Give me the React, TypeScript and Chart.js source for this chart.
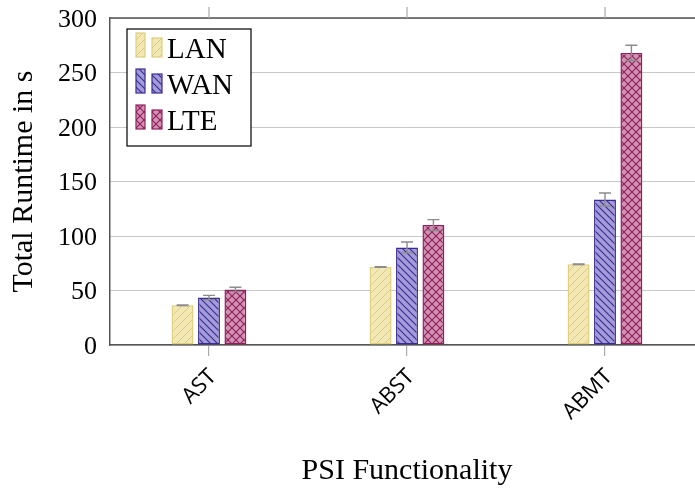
import React, { useEffect, useRef } from 'react';
import { Chart, registerables } from 'chart.js';

Chart.register(...registerables);

// ---- data ----
const categories = ['AST', 'ABST', 'ABMT'];
const seriesNames = ['LAN', 'WAN', 'LTE'];
const lanValues = [36.5, 71.5, 74];
const wanValues = [43.5, 89.5, 133.5];
const lteValues = [51, 110, 268];
const lanErrors = [0.3, 0.3, 0.3];
const wanErrors = [2, 5, 6];
const lteErrors = [2, 5, 7];
const yTickValues = [0, 50, 100, 150, 200, 250, 300];
const xTitle = 'PSI Functionality';
const yTitle = 'Total Runtime in s';

const SERIF = '"Liberation Serif", "Times New Roman", serif';
const SANS = '"Open Sans", "Noto Sans", sans-serif';

function makePattern(kind: string, bg: string, fg: string, s: number, lw: number) {
  const c = document.createElement('canvas');
  c.width = s;
  c.height = s;
  const g = c.getContext('2d')!;
  g.fillStyle = bg;
  g.fillRect(0, 0, s, s);
  g.strokeStyle = fg;
  g.lineWidth = lw;
  const ne = () => {
    for (const o of [-s, 0, s]) {
      g.beginPath();
      g.moveTo(o - 1, s + 1);
      g.lineTo(o + s + 1, -1);
      g.stroke();
    }
  };
  const nw = () => {
    for (const o of [-s, 0, s]) {
      g.beginPath();
      g.moveTo(o - 1, -1);
      g.lineTo(o + s + 1, s + 1);
      g.stroke();
    }
  };
  if (kind === 'ne') ne();
  if (kind === 'nw') nw();
  if (kind === 'cross') {
    ne();
    nw();
  }
  return g.createPattern(c, 'repeat')!;
}

export default function App() {
  const ref = useRef<HTMLCanvasElement>(null);

  useEffect(() => {
    const canvas = ref.current!;
    const lanPat = makePattern('ne', '#f1e8b6', '#ddcc80', 8, 1);
    const wanPat = makePattern('nw', '#a39cd8', '#3b2e96', 7, 1.2);
    const ltePat = makePattern('cross', '#d294b3', '#932261', 8, 1.2);
    const patterns = [lanPat, wanPat, ltePat];
    const borders = ['#dfcd7c', '#392b93', '#93205e'];
    const values = [lanValues, wanValues, lteValues];
    const errors = [lanErrors, wanErrors, lteErrors];

    const errorBars = {
      id: 'errorBars',
      afterDatasetsDraw(chart: any) {
        const ctx = chart.ctx;
        const ys = chart.scales.y;
        ctx.save();
        ctx.strokeStyle = '#8c8c8c';
        ctx.lineWidth = 1.4;
        chart.data.datasets.forEach((ds: any, i: number) => {
          const meta = chart.getDatasetMeta(i);
          meta.data.forEach((el: any, j: number) => {
            const v = ds.data[j];
            const e = errors[i][j];
            const yt = ys.getPixelForValue(v + e);
            const yb = ys.getPixelForValue(v - e);
            const x = el.x;
            ctx.beginPath();
            ctx.moveTo(x, yt);
            ctx.lineTo(x, yb);
            ctx.moveTo(x - 6, yt);
            ctx.lineTo(x + 6, yt);
            ctx.moveTo(x - 6, yb);
            ctx.lineTo(x + 6, yb);
            ctx.stroke();
          });
        });
        ctx.restore();
      },
    };

    const frameAndLegend = {
      id: 'frameAndLegend',
      afterDraw(chart: any) {
        const ctx = chart.ctx;
        const a = chart.chartArea;
        const xs = chart.scales.x;
        ctx.save();
        // top frame line
        ctx.strokeStyle = '#555';
        ctx.lineWidth = 1.5;
        ctx.beginPath();
        ctx.moveTo(a.left, a.top);
        ctx.lineTo(a.right + 20, a.top);
        ctx.stroke();
        // top ticks
        ctx.strokeStyle = '#aaa';
        ctx.lineWidth = 1.2;
        categories.forEach((_, i) => {
          const x = xs.getPixelForValue(i);
          ctx.beginPath();
          ctx.moveTo(x, a.top - 11);
          ctx.lineTo(x, a.top);
          ctx.stroke();
        });
        // legend
        const bx = a.left + 17;
        const by = a.top + 11;
        const bw = 124;
        const bh = 117;
        ctx.fillStyle = '#fff';
        ctx.fillRect(bx, by, bw, bh);
        ctx.strokeStyle = '#000';
        ctx.lineWidth = 1.2;
        ctx.strokeRect(bx, by, bw, bh);
        chart.data.datasets.forEach((ds: any, k: number) => {
          const rt = by + 4 + k * 36;
          ctx.fillStyle = ds.backgroundColor;
          ctx.strokeStyle = ds.borderColor;
          ctx.lineWidth = 1.2;
          ctx.fillRect(bx + 9, rt, 9, 24);
          ctx.strokeRect(bx + 9, rt, 9, 24);
          ctx.fillRect(bx + 25, rt + 5, 10, 19);
          ctx.strokeRect(bx + 25, rt + 5, 10, 19);
          ctx.fillStyle = '#000';
          ctx.font = `29px ${SERIF}`;
          ctx.textAlign = 'left';
          ctx.textBaseline = 'alphabetic';
          ctx.fillText(ds.label, bx + 40, rt + 25);
        });
        ctx.restore();
      },
    };

    const chart = new Chart(canvas, {
      type: 'bar',
      data: {
        labels: categories,
        datasets: seriesNames.map((name, i) => ({
          label: name,
          data: values[i],
          backgroundColor: patterns[i] as any,
          borderColor: borders[i],
          borderWidth: 1.5,
          borderSkipped: false,
          categoryPercentage: 0.4,
          barPercentage: 0.83,
        })),
      },
      options: {
        animation: false,
        responsive: false,
        devicePixelRatio: 1,
        layout: { padding: { left: 0, right: 16, top: 18, bottom: 0 } },
        plugins: {
          legend: { display: false },
          tooltip: { enabled: false },
        },
        scales: {
          x: {
            afterFit: (s: any) => {
              s.height = 145;
              s.paddingLeft = 0;
              s.paddingRight = 0;
            },
            grid: {
              offset: false,
              drawOnChartArea: false,
              drawTicks: true,
              tickLength: 11,
              color: '#aaa',
              lineWidth: 1.2,
            },
            border: { color: '#555', width: 1.5 },
            ticks: {
              color: '#000',
              font: { family: SANS, size: 22 },
              minRotation: 45,
              maxRotation: 45,
              padding: 8,
              labelOffset: 4,
            },
            title: {
              display: true,
              text: xTitle,
              color: '#000',
              font: { family: SERIF, size: 30 },
              padding: { top: 0, bottom: 1 },
            },
          },
          y: {
            min: 0,
            max: 300,
            afterFit: (s: any) => {
              s.width = 110;
              s.paddingTop = 0;
              s.paddingBottom = 0;
            },
            afterBuildTicks: (s: any) => {
              s.ticks = yTickValues.map((v) => ({ value: v }));
            },
            grid: { color: '#c8c8c8', lineWidth: 1, drawTicks: false },
            border: { color: '#555', width: 1.5 },
            ticks: {
              color: '#000',
              font: { family: SERIF, size: 26 },
              padding: 13,
              labelOffset: 2,
            },
            title: {
              display: true,
              text: yTitle,
              color: '#000',
              font: { family: SERIF, size: 30 },
              padding: { top: 6, bottom: 0 },
            },
          },
        },
      },
      plugins: [errorBars, frameAndLegend],
    });
    return () => chart.destroy();
  }, []);

  return (
    <div
      style={{
        position: 'absolute',
        left: 0,
        top: 0,
        width: 695,
        height: 490,
        overflow: 'hidden',
        background: '#fff',
      }}
    >
      <canvas ref={ref} width={720} height={490} style={{ display: 'block', width: 720, height: 490 }} />
    </div>
  );
}
